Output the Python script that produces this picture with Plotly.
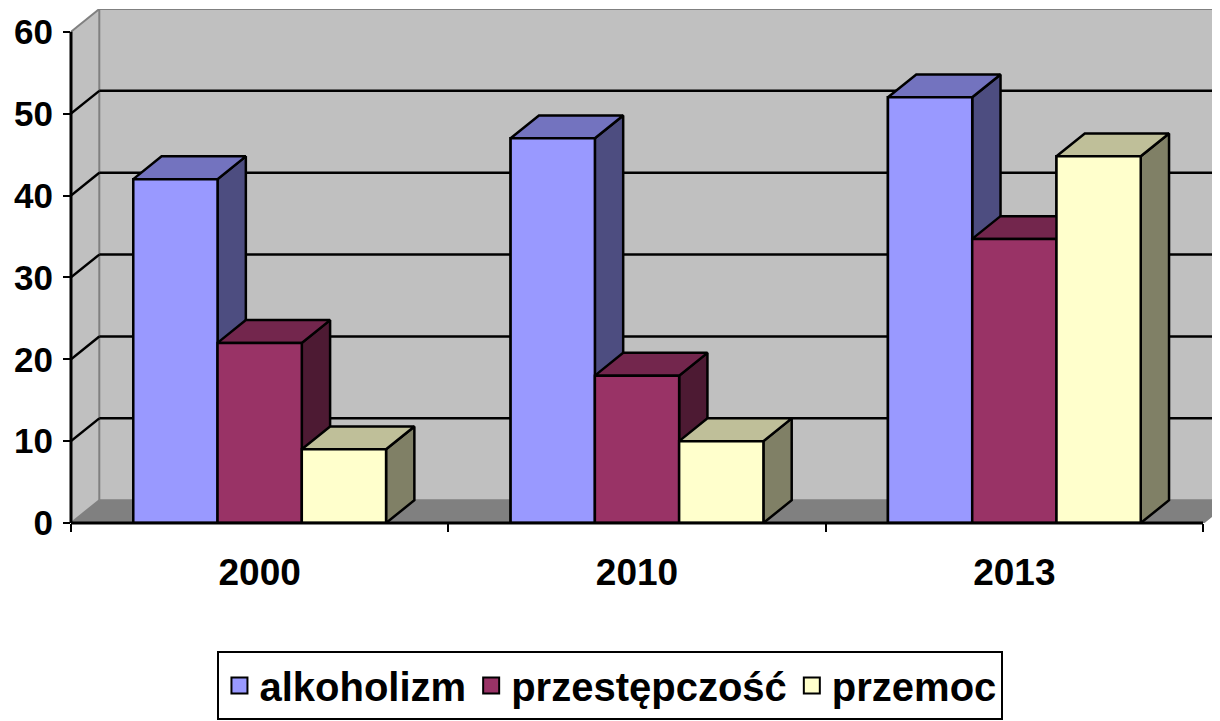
import plotly.graph_objects as go

# ---------------- data ----------------
categories = ["2000", "2010", "2013"]
series_names = ["alkoholizm", "przestępczość", "przemoc"]
alkoholizm = [42, 47, 52]
przestepczosc = [22, 18, 34.7]
przemoc = [9, 10, 44.8]
y_ticks = [0, 10, 20, 30, 40, 50, 60]

series_values = [alkoholizm, przestepczosc, przemoc]

# ---------------- style ----------------
front_colors = ["#9999FF", "#993366", "#FFFFCC"]
top_colors = ["#7373BF", "#73264D", "#BFBF99"]
side_colors = ["#4D4D80", "#4D1A33", "#808066"]
WALL = "#C0C0C0"
FLOOR = "#808080"
EDGE = "#808080"
FONT = "Liberation Sans, Arial, sans-serif"

DX = 0.075   # depth offset (category units)
DY = 2.78    # depth offset (value units)
BW = 0.2233  # bar width (category units)
YMAX = y_ticks[-1]
NCAT = len(categories)
XMAX = 3.045

fig = go.Figure()

# front faces as real bars (carry the data)
for s, (name, vals) in enumerate(zip(series_names, series_values)):
    xs = [i + 0.5 + (s - 1) * BW for i in range(NCAT)]
    fig.add_trace(go.Bar(
        x=xs, y=vals, width=BW, name=name,
        marker=dict(color=front_colors[s], line=dict(color="black", width=2.5)),
        showlegend=False, hoverinfo="skip"))


def poly(xs, ys, color):
    return go.Scatter(
        x=xs + [xs[0]], y=ys + [ys[0]], mode="lines", fill="toself",
        fillcolor=color, line=dict(color="black", width=2.5),
        showlegend=False, hoverinfo="skip")


# 3D faces, painter's order (left to right)
for i in range(NCAT):
    for s in range(len(series_values)):
        v = series_values[s][i]
        xl = i + 0.5 + (s - 1.5) * BW
        xr = xl + BW
        fig.add_trace(poly([xr, xr + DX, xr + DX, xr], [0, DY, v + DY, v], side_colors[s]))
        fig.add_trace(poly([xl, xr, xr + DX, xl + DX], [v, v, v + DY, v + DY], top_colors[s]))
        fig.add_trace(poly([xl, xr, xr, xl], [0, 0, v, v], front_colors[s]))

# legend entries
for s, name in enumerate(series_names):
    fig.add_trace(go.Scatter(
        x=[None], y=[None], mode="markers", name=name,
        marker=dict(symbol="square", size=16, color=front_colors[s],
                    line=dict(color="black", width=2))))

# ---------------- walls, floor, gridlines ----------------
shapes = []
shapes.append(dict(type="rect", xref="x", yref="y", x0=DX, x1=NCAT + DX,
                   y0=DY, y1=YMAX + DY, fillcolor=WALL, line=dict(width=0), layer="below"))
shapes.append(dict(type="path", xref="x", yref="y",
                   path=f"M0,0 L{DX},{DY} L{DX},{YMAX + DY} L0,{YMAX} Z",
                   fillcolor=WALL, line=dict(width=0), layer="below"))
shapes.append(dict(type="path", xref="x", yref="y",
                   path=f"M0,0 L{DX},{DY} L{NCAT + DX},{DY} L{NCAT},0 Z",
                   fillcolor=FLOOR, line=dict(width=0), layer="below"))
# edges
for (x0, y0, x1, y1) in [(DX, DY, DX, YMAX + DY), (DX, DY, NCAT + DX, DY),
                         (0, YMAX, DX, YMAX + DY), (DX, YMAX + DY, NCAT + DX, YMAX + DY),
                         (0, 0, DX, DY), (NCAT, 0, NCAT + DX, DY)]:
    shapes.append(dict(type="line", xref="x", yref="y", x0=x0, y0=y0, x1=x1, y1=y1,
                       line=dict(color=EDGE, width=2), layer="below"))
# gridlines on back and side walls
for v in y_ticks[1:-1]:
    shapes.append(dict(type="line", xref="x", yref="y", x0=DX, x1=NCAT + DX,
                       y0=v + DY, y1=v + DY, line=dict(color="black", width=2.5), layer="below"))
    shapes.append(dict(type="line", xref="x", yref="y", x0=0, x1=DX,
                       y0=v, y1=v + DY, line=dict(color="black", width=2.5), layer="below"))
# axis lines
shapes.append(dict(type="line", xref="paper", yref="y", x0=0, x1=0, y0=0, y1=YMAX,
                   line=dict(color="black", width=3), layer="above"))
shapes.append(dict(type="line", xref="x", yref="paper", x0=0, x1=NCAT, y0=0, y1=0,
                   line=dict(color="black", width=3), layer="above"))

# page body has an 8px default margin: figure is sized/offset to compensate
fig.update_layout(
    width=1212, height=713,
    margin=dict(l=63, r=0, t=1, b=198, autoexpand=False),
    paper_bgcolor="white", plot_bgcolor="white",
    barmode="overlay",
    shapes=shapes,
    showlegend=True,
    legend=dict(
        orientation="h", x=0.4695, xanchor="center", y=-0.249, yanchor="top",
        bordercolor="black", borderwidth=2, bgcolor="white",
        font=dict(family=FONT, size=40, color="black", weight="bold"),
        itemsizing="trace"),
    xaxis=dict(
        range=[0, XMAX], showgrid=False, zeroline=False, showline=False,
        automargin=False,
        tickmode="array", tickvals=[i + 0.5 for i in range(NCAT)], ticktext=categories,
        ticks="", ticklabelstandoff=24,
        tickfont=dict(family=FONT, size=37, color="black", weight="bold"),
        minor=dict(tickmode="array", tickvals=list(range(NCAT + 1)), ticks="outside",
                   ticklen=8, tickwidth=2, tickcolor="black", showgrid=False)),
    yaxis=dict(
        range=[0, YMAX + DY], showgrid=False, zeroline=False, showline=False,
        automargin=False,
        tickmode="array", tickvals=y_ticks, ticks="outside", ticklen=7, tickwidth=2,
        tickcolor="black", ticklabelstandoff=3,
        tickfont=dict(family=FONT, size=35, color="black", weight="bold")),
)

fig.write_html("out.html")
